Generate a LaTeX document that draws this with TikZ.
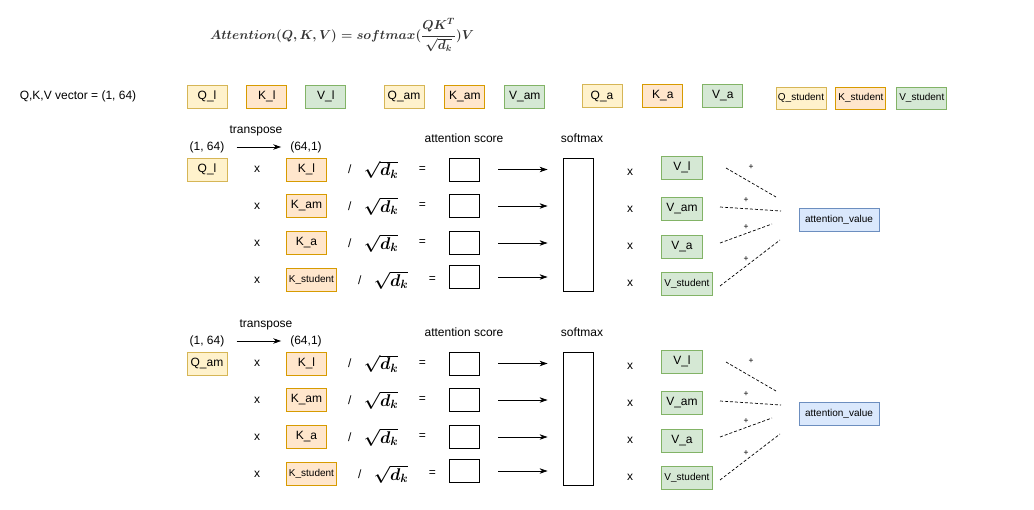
\RequirePackage{fix-cm}
\documentclass[tikz,border=0pt]{standalone}
\usepackage[no-math]{fontspec}
\setmainfont{Liberation Sans}
\usepackage{amsmath,amssymb}
\usetikzlibrary{positioning,calc,arrows.meta}
\definecolor{qfill}{HTML}{FFF2CC}
\definecolor{qline}{HTML}{D6B656}
\definecolor{kfill}{HTML}{FFE6CC}
\definecolor{kline}{HTML}{D79B00}
\definecolor{vfill}{HTML}{D5E8D4}
\definecolor{vline}{HTML}{82B366}
\definecolor{afill}{HTML}{DAE8FC}
\definecolor{aline}{HTML}{6C8EBF}
\newcommand{\attnformula}{$Attention(Q,K,V)=softmax(\dfrac{QK^T}{\sqrt{d_k}})V$}

\begin{document}
\begin{tikzpicture}[x=1pt, y=-1pt,
    lbl/.style={inner sep=1pt, font=\fontsize{12}{14}\selectfont},
    vbox/.style={draw, line width=0.9pt, minimum width=40pt, minimum height=23pt, inner sep=1pt, font=\fontsize{12}{14}\selectfont},
    qbox/.style={vbox, fill=qfill, draw=qline},
    kbox/.style={vbox, fill=kfill, draw=kline},
    valbox/.style={vbox, fill=vfill, draw=vline},
    wide/.style={minimum width=50pt, minimum height=22pt, font=\fontsize{10}{12}\selectfont},
    scorebox/.style={draw, line width=0.9pt, minimum width=30pt, minimum height=23pt, inner sep=0pt},
    rootlbl/.style={inner sep=1pt, font=\fontsize{17}{20}\selectfont\boldmath},
    arr/.style={-{Stealth[length=8pt, width=5.5pt]}, line width=0.7pt},
    sumline/.style={dash pattern=on 3pt off 2pt, line width=0.7pt}]
  \useasboundingbox (0,0) rectangle (1034,509);

  % formula
  \node[text=black!80, font={\fontsize{13}{15}\selectfont\boldmath}] (formula) at (342,35) {\attnformula};

  % vectors
  \node[lbl] (vec) at (78,96) {Q,K,V vector = (1, 64)};
  \node[qbox] (ql) at (207,96.5) {Q\_l};
  \node[kbox, right=19pt of ql] (kl) {K\_l};
  \node[valbox, right=18pt of kl] (vl) {V\_l};
  \node[qbox] (qam) at (404,96.5) {Q\_am};
  \node[kbox, right=20pt of qam] (kam) {K\_am};
  \node[valbox, right=19pt of kam] (vam) {V\_am};
  \node[qbox] (qa) at (602,96) {Q\_a};
  \node[kbox, right=20pt of qa] (ka) {K\_a};
  \node[valbox, right=19pt of ka] (va) {V\_a};
  \node[qbox, wide] (qst) at (801,98) {Q\_student};
  \node[kbox, wide, right=9pt of qst] (kst) {K\_student};
  \node[valbox, wide, right=10pt of kst] (vst) {V\_student};

  % two blocks: query l and query am
  \foreach \s/\dy/\qt/\tx in {a/0/Q\_l/256, b/194/Q\_am/266} {
    \node[lbl] (\s-tr) at (\tx,131+\dy) {transpose};
    \node[lbl] (\s-d1) at (207,147+\dy) {(1, 64)};
    \node[lbl] (\s-d2) at (306,147+\dy) {(64,1)};
    \draw[arr, shorten <=11pt, shorten >=8pt] (\s-d1.east) -- (\s-d2.west);
    \node[qbox] (\s-q) at (207,169.5+\dy) {\qt};
    \node[lbl] (\s-sclbl) at (464,138+\dy) {attention score};
    \node[lbl] (\s-smlbl) at (582,138+\dy) {softmax};
    \node[draw, line width=0.9pt, minimum width=30pt, minimum height=133pt] (\s-soft) at (578,224.5+\dy) {};
    \node[draw=aline, fill=afill, line width=0.9pt, minimum width=80pt, minimum height=23pt,
      font=\fontsize{10}{12}\selectfont] (\s-att) at (839,219.5+\dy) {attention\_value};

    \foreach \r/\kt/\vt/\ky/\sy/\vy/\kw/\fs in {1/K\_l/V\_l/169.5/169.5/167.5/40/12,
        2/K\_am/V\_am/206/206/208.5/40/12, 3/K\_a/V\_a/243/243/247/40/12,
        4/K\_student/V\_student/280/277/283.5/50/10} {
      \node[lbl] (\s-x\r) at (257,\ky+\dy) {x};
      \node[kbox, minimum width=\kw pt, anchor=west, font=\fontsize{\fs}{14}\selectfont] (\s-k\r) at (286,\ky+\dy) {\kt};
      \node[lbl, right=20pt of \s-k\r] (\s-sl\r) {/};
      \node[rootlbl, right=10pt of \s-sl\r] (\s-rt\r) {$\sqrt{d_k}$};
      \node[lbl, right=18pt of \s-rt\r] (\s-eq\r) {=};
      \node[scorebox] (\s-sc\r) at (464,\sy+\dy) {};
      \draw[arr, shorten <=19pt, shorten >=15pt] (\s-sc\r.east) -- (\s-sc\r.east -| \s-soft.west);
      \node[lbl] (\s-y\r) at (630,\ky+3+\dy) {x};
      \node[valbox, minimum width=\kw pt+1pt, anchor=west, font=\fontsize{\fs}{14}\selectfont] (\s-v\r) at (661,\vy+\dy) {\vt};
    }

    % weighted sum
    \coordinate (\s-p1) at (726,168+\dy);
    \coordinate (\s-e1) at (776,197+\dy);
    \coordinate (\s-p2) at (720,207+\dy);
    \coordinate (\s-e2) at (781,211+\dy);
    \coordinate (\s-p3) at (720,243+\dy);
    \coordinate (\s-e3) at (772,224+\dy);
    \coordinate (\s-p4) at (720,286+\dy);
    \coordinate (\s-e4) at (780,240+\dy);
    \foreach \r/\px/\py in {1/751/167, 2/746/200, 3/746/227, 4/746/259} {
      \draw[sumline] (\s-p\r) -- (\s-e\r);
      \node[inner sep=0pt, font=\fontsize{8.5}{9}\selectfont] (\s-pl\r) at (\px,\py+\dy) {+};
    }
  }
\end{tikzpicture}
\end{document}
